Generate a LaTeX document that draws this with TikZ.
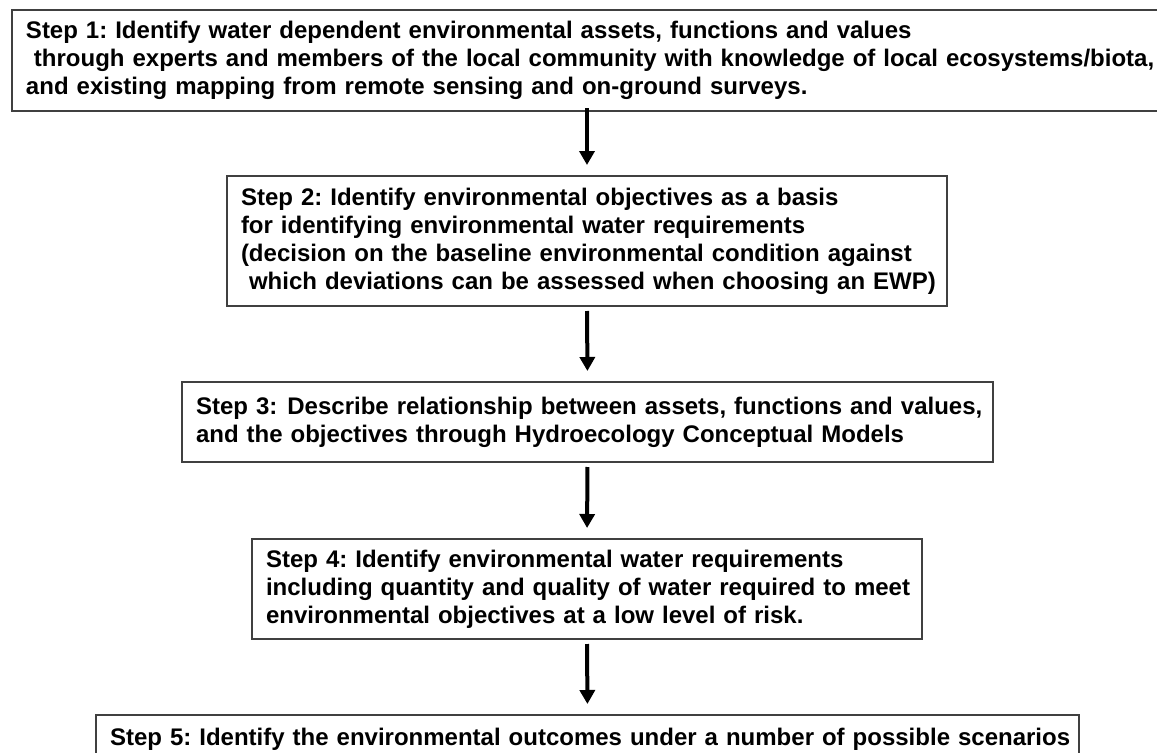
\documentclass[tikz,border=0pt]{standalone}
\usepackage{fontspec}
\setmainfont{Liberation Sans}
\usetikzlibrary{arrows.meta}
\frenchspacing
\begin{document}
\begin{tikzpicture}[x=0.75pt,y=-0.75pt,
  stepbox/.style={draw=black!75, line width=1.5pt, fill=white, align=left,
    inner xsep=10.5pt, inner ysep=0pt,
    font=\fontsize{18pt}{21pt}\selectfont\bfseries\frenchspacing},
  flow/.style={line width=3pt, -{Triangle[width=11.25pt,length=10.5pt]}}]
\useasboundingbox (0,0) rectangle (1157,753);
\clip (0,0) rectangle (1157,753);
\fill[white] (0,0) rectangle (1157,753);
\node[stepbox, text width=841.5pt, minimum height=75.75pt] (b1) at (587,60.5)
 {\mbox{Step 1: Identify water dependent environmental assets, functions and values}\\
  \mbox{\ through experts and members of the local community with knowledge of local ecosystems/biota,}\\
  \mbox{and existing mapping from remote sensing and on-ground surveys.}};
\node[stepbox, text width=519pt, minimum height=97.5pt] (b2) at (587,241)
 {\mbox{Step 2: Identify environmental objectives as a basis}\\
  \mbox{for identifying environmental water requirements}\\
  \mbox{(decision on the baseline environmental condition against}\\
  \mbox{\ which deviations can be assessed when choosing an EWP)}};
\node[stepbox, text width=587.25pt, minimum height=60pt] (b3) at (587.5,422)
 {\mbox{Step 3:\hspace{0.42em}Describe relationship between assets, functions and values,}\\
  \mbox{and the objectives through Hydroecology Conceptual Models}};
\node[stepbox, text width=481.5pt, minimum height=75pt] (b4) at (587,589)
 {\mbox{Step 4: Identify environmental water requirements}\\
  \mbox{including quantity and quality of water required to meet}\\
  \mbox{environmental objectives at a low level of risk.}};
\node[stepbox, text width=716.25pt, minimum height=36pt] (b5) at (587.5,739)
 {\mbox{Step 5: Identify the environmental outcomes under a number of possible scenarios}};
\draw[flow, shorten <=-3pt, shorten >=7.5pt] (b1.south) -- (b2.north);
\draw[flow, shorten <=3pt, shorten >=7.5pt] (b2.south) -- (b3.north);
\draw[flow, shorten <=3pt, shorten >=7.5pt] (b3.south) -- (b4.north);
\draw[flow, shorten <=3pt, shorten >=7.5pt] (b4.south) -- (b5.north);
\end{tikzpicture}
\end{document}
